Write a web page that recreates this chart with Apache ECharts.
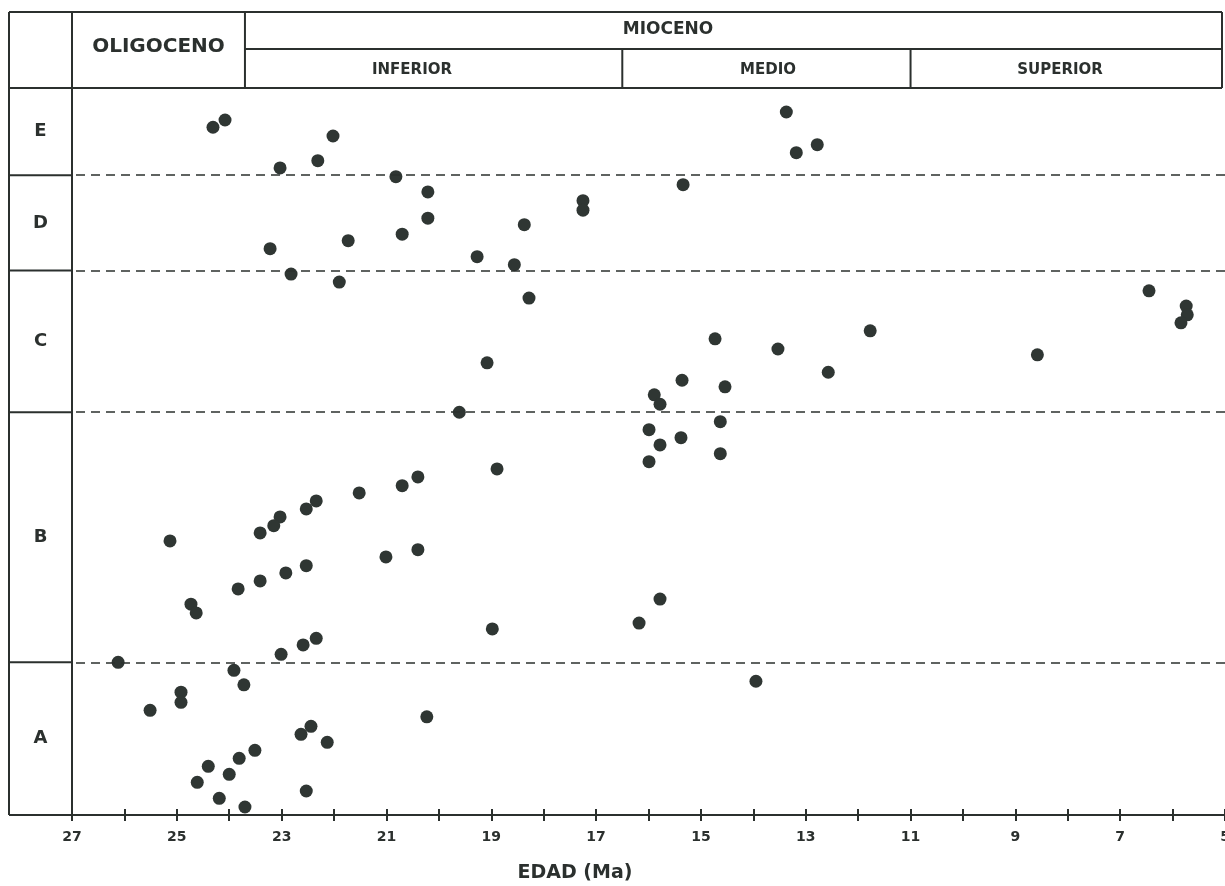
<!DOCTYPE html>
<html>
<head>
<meta charset="utf-8">
<script src="https://cdn.jsdelivr.net/npm/echarts@6/dist/echarts.min.js"></script>
<style>
html, body { margin: 0; padding: 0; background: #fff; }
#main { width: 1225px; height: 886px; }
</style>
</head>
<body>
<div id="main"></div>
<script>
// unidades y limites (posicion relativa 0-100 en la columna)
var unidades = ['A', 'B', 'C', 'D', 'E'];
var limites = [0, 21.0, 55.4, 74.9, 88.0, 100];
var ticksEdad = [27, 25, 23, 21, 19, 17, 15, 13, 11, 9, 7, 5];

// divisiones de la cabecera (Ma)
var limOligoMio = 23.7;
var limInfMed = 16.5;
var limMedSup = 11.0;

// [edad Ma, posicion]
var puntosA = [[23.91, 19.9], [23.72, 17.9], [24.92, 16.9], [24.92, 15.5], [25.51, 14.4], [20.23, 13.5],
  [22.44, 12.2], [22.63, 11.1], [22.13, 10.0], [23.51, 8.9], [23.81, 7.8], [24.40, 6.7], [24.00, 5.6],
  [24.61, 4.5], [22.53, 3.3], [24.19, 2.3], [23.70, 1.1], [13.95, 18.4]];
var puntosB = [[19.61, 55.4], [14.63, 54.1], [15.99, 53.0], [15.38, 51.9], [15.78, 50.9], [14.63, 49.7],
  [15.99, 48.6], [20.40, 46.5], [20.70, 45.3], [18.89, 47.6], [20.40, 36.5], [15.78, 29.7], [16.18, 26.4],
  [18.98, 25.6], [21.52, 44.3], [22.34, 43.2], [22.53, 42.1], [23.03, 41.0], [23.15, 39.8], [23.41, 38.8],
  [25.13, 37.7], [21.01, 35.5], [22.53, 34.3], [22.92, 33.3], [23.41, 32.2], [23.83, 31.1], [24.73, 29.0],
  [24.63, 27.8], [22.34, 24.3], [22.59, 23.4], [23.01, 22.1], [26.12, 21.0]];
var puntosC = [[22.82, 74.4], [21.90, 73.3], [18.28, 71.1], [19.08, 62.2], [14.73, 65.5], [13.53, 64.1],
  [12.57, 60.9], [15.36, 59.8], [14.54, 58.9], [15.89, 57.8], [15.78, 56.5], [6.45, 72.1], [5.74, 70.0],
  [5.72, 68.8], [5.84, 67.7], [11.77, 66.6], [8.58, 63.3]];
var puntosD = [[20.82, 87.8], [20.21, 85.7], [20.21, 82.1], [20.70, 79.9], [21.73, 79.0], [23.22, 77.9],
  [15.34, 86.7], [17.25, 84.5], [17.25, 83.2], [18.37, 81.2], [19.27, 76.8], [18.56, 75.7]];
var puntosE = [[24.31, 94.6], [24.08, 95.6], [22.02, 93.4], [23.03, 89.0], [22.31, 90.0], [13.37, 96.7],
  [13.18, 91.1], [12.78, 92.2]];

var ink = '#2b302e';
var dot = '#2f3633';
var fam = '"DejaVu Sans", sans-serif';

var chart = echarts.init(document.getElementById('main'));

function serie(nombre, datos) {
  return {
    name: nombre,
    type: 'scatter',
    symbolSize: 13,
    itemStyle: { color: dot, opacity: 1 },
    data: datos
  };
}

var series = [
  serie('A', puntosA), serie('B', puntosB), serie('C', puntosC), serie('D', puntosD), serie('E', puntosE)
];
series[0].markLine = {
  silent: true,
  symbol: 'none',
  label: { show: false },
  lineStyle: { color: ink, type: [9, 6], width: 1.6 },
  data: limites.slice(1, 5).map(function (v) { return { yAxis: v }; })
};

option = {
  animation: false,
  backgroundColor: '#fff',
  grid: { left: 72, right: 0, top: 88, bottom: 71, containLabel: false, outerBoundsMode: 'none' },
  xAxis: [{
    type: 'value', inverse: true, min: 5, max: 27, interval: 1,
    axisLine: { show: true, onZero: false, lineStyle: { color: ink, width: 2 } },
    axisTick: { show: true, length: 6, lineStyle: { color: ink, width: 2 } },
    axisLabel: {
      margin: 15, color: ink, fontFamily: fam, fontWeight: 'bold', fontSize: 14,
      showMinLabel: true, showMaxLabel: true,
      formatter: function (v) { return ticksEdad.indexOf(v) >= 0 ? String(v) : ''; }
    },
    splitLine: { show: false }
  }, {
    type: 'value', inverse: true, min: 5, max: 27, interval: 1, position: 'bottom',
    axisLine: { show: false },
    axisTick: { show: true, inside: true, length: 6, lineStyle: { color: ink, width: 2 } },
    axisLabel: { show: false },
    splitLine: { show: false }
  }],
  yAxis: {
    type: 'value', min: 0, max: 100,
    axisLine: { show: true, lineStyle: { color: ink, width: 2 } },
    axisTick: { show: false },
    axisLabel: { show: false },
    splitLine: { show: false }
  },
  series: series
};
chart.setOption(option);

// cabecera y columna de unidades
function gx(v) { return chart.convertToPixel({ xAxisIndex: 0 }, v); }
function gy(v) { return chart.convertToPixel({ yAxisIndex: 0 }, v); }

var xl = 9, xa = gx(27), xr = gx(5) - 3;
var yTop = 12, yMid = 49, yPlot = gy(100), yBot = gy(0);
var xOM = gx(limOligoMio), xIM = gx(limInfMed), xMS = gx(limMedSup);

function linea(x1, y1, x2, y2) {
  return { type: 'line', silent: true, shape: { x1: x1, y1: y1, x2: x2, y2: y2 },
    style: { stroke: ink, lineWidth: 2 } };
}
function texto(t, x, y, size) {
  return { type: 'text', silent: true, x: x, y: y,
    style: { text: t, fill: ink, font: 'bold ' + size + 'px ' + fam, align: 'center', verticalAlign: 'middle' } };
}

var g = [
  linea(xl, yTop, xr, yTop),
  linea(xl, yPlot, xr, yPlot),
  linea(xl, yTop, xl, yBot),
  linea(xl, yBot, xa, yBot),
  linea(xa, yTop, xa, yPlot),
  linea(xr, yTop, xr, yPlot),
  linea(xOM, yTop, xOM, yPlot),
  linea(xOM, yMid, xr, yMid),
  linea(xIM, yMid, xIM, yPlot),
  linea(xMS, yMid, xMS, yPlot),
  texto('OLIGOCENO', (xa + xOM) / 2, 47, 20),
  texto('MIOCENO', 668, 30, 17),
  texto('INFERIOR', 412, 70, 15),
  texto('MEDIO', 768, 70, 15),
  texto('SUPERIOR', 1060, 70, 15),
  texto('EDAD (Ma)', 575, 873, 19)
];
for (var i = 1; i < limites.length - 1; i++) {
  g.push(linea(xl, gy(limites[i]), xa, gy(limites[i])));
}
for (var j = 0; j < unidades.length; j++) {
  g.push(texto(unidades[j], (xl + xa) / 2, gy((limites[j] + limites[j + 1]) / 2), 18));
}
chart.setOption({ graphic: g });
</script>
</body>
</html>
